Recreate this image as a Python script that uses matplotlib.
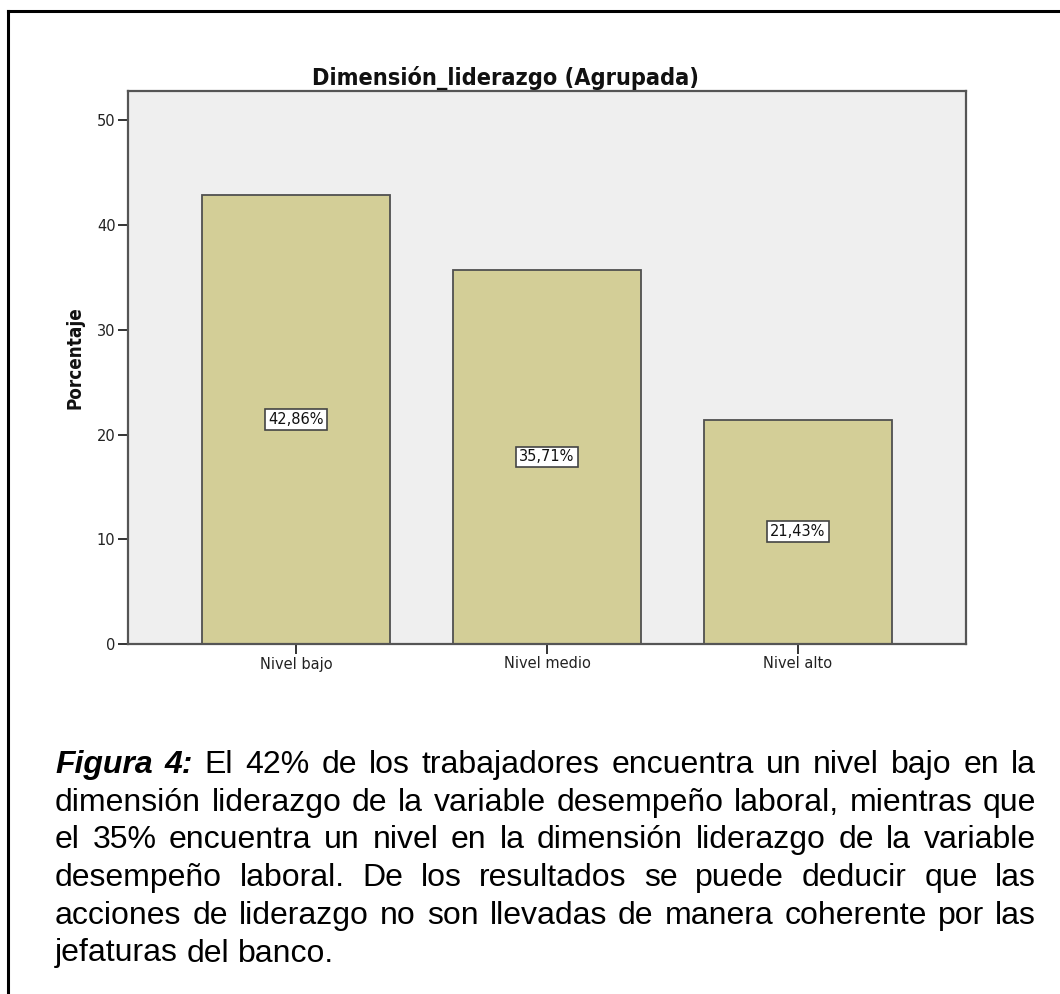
import matplotlib
matplotlib.use("Agg")
import matplotlib.pyplot as plt
from matplotlib.lines import Line2D

# ---------------- data ----------------
categories = ["Nivel bajo", "Nivel medio", "Nivel alto"]
percentages = [42.86, 35.71, 21.43]
y_ticks = [0, 10, 20, 30, 40, 50]
title_text = "Dimensión_liderazgo (Agrupada)"
y_label = "Porcentaje"
caption_label = "Figura 4:"
caption_lines = [
    "El 42% de los trabajadores encuentra un nivel bajo en la",
    "dimensión liderazgo de la variable desempeño laboral, mientras que",
    "el 35% encuentra un nivel en la dimensión liderazgo de la variable",
    "desempeño laboral. De los resultados se puede deducir que las",
    "acciones de liderazgo no son llevadas de manera coherente por las",
    "jefaturas del banco.",
]

W, H = 1060, 994
DPI = 100
fig = plt.figure(figsize=(W / DPI, H / DPI), dpi=DPI)
fig.patch.set_facecolor("white")


def fx(x):
    return x / W


def fy(y):
    return 1 - y / H


# outer frame (top and left)
fig.add_artist(Line2D([fx(8), fx(W)], [fy(11), fy(11)], transform=fig.transFigure,
                      color="black", lw=2.2))
fig.add_artist(Line2D([fx(8), fx(8)], [fy(11), fy(H)], transform=fig.transFigure,
                      color="black", lw=2.2))

# ---------------- axes ----------------
ax_l, ax_r, ax_t, ax_b = 128, 966, 91, 644
ax = fig.add_axes([fx(ax_l), fy(ax_b), fx(ax_r - ax_l), (ax_b - ax_t) / H])
ax.set_facecolor("#efefef")
xpos = list(range(len(categories)))
ax.bar(xpos, percentages, width=0.75, color="#d3ce97", edgecolor="#505050",
       linewidth=1.3, zorder=2)
ax.set_xlim(-0.67, 2.67)
ax.set_ylim(0, 52.8)
ax.set_yticks(y_ticks)
ax.set_xticks(xpos)
ax.set_xticklabels(categories)
for sp in ax.spines.values():
    sp.set_color("#555555")
    sp.set_linewidth(1.6)
ax.tick_params(axis="both", direction="out", length=7, width=1.4, color="#333333",
               labelsize=10.5, labelcolor="#222222", pad=2)

for x, v in zip(xpos, percentages):
    lab = f"{v:.2f}".replace(".", ",") + "%"
    ax.text(x, v / 2, lab, ha="center", va="center", fontsize=10.5, color="#111111",
            bbox=dict(boxstyle="square,pad=0.2", fc="white", ec="#444444", lw=1.2),
            zorder=3)

fig.text(fx(505), fy(85), title_text, ha="center", va="baseline",
         fontsize=16.8, fontweight="bold", fontstretch="condensed", family="DejaVu Sans",
         color="#111111")
fig.text(fx(75), fy(358), y_label, ha="center", va="center", rotation=90,
         fontsize=13.5, fontweight="bold", fontstretch="condensed", family="DejaVu Sans",
         color="#111111")

# ---------------- caption (justified) ----------------
renderer = fig.canvas.get_renderer()
x0, x1 = 55, 1036
base0, step = 773, 37.7
fs = 23
fam = "Liberation Sans"


def width_of(t):
    return t.get_window_extent(renderer=renderer).width


probe1 = fig.text(0, 0, "a a", fontsize=fs, family=fam)
probe2 = fig.text(0, 0, "aa", fontsize=fs, family=fam)
space = width_of(probe1) - width_of(probe2)
probe1.remove()
probe2.remove()

for i, line in enumerate(caption_lines):
    yb = fy(base0 + i * step)
    words = [(w, False) for w in line.split(" ")]
    if i == 0:
        words = [(w, True) for w in caption_label.split(" ")] + words
    texts = []
    for w, bold in words:
        t = fig.text(0, yb, w, fontsize=fs, family=fam, va="baseline", ha="left",
                     fontweight="bold" if bold else "normal",
                     fontstyle="italic" if bold else "normal", color="black")
        texts.append(t)
    widths = [width_of(t) for t in texts]
    if i < len(caption_lines) - 1:
        gap = (x1 - x0 - sum(widths)) / (len(words) - 1)
    else:
        gap = space
    x = x0
    for t, wd in zip(texts, widths):
        t.set_x(fx(x))
        x += wd + gap

fig.savefig("out.png", dpi=DPI, facecolor="white")
